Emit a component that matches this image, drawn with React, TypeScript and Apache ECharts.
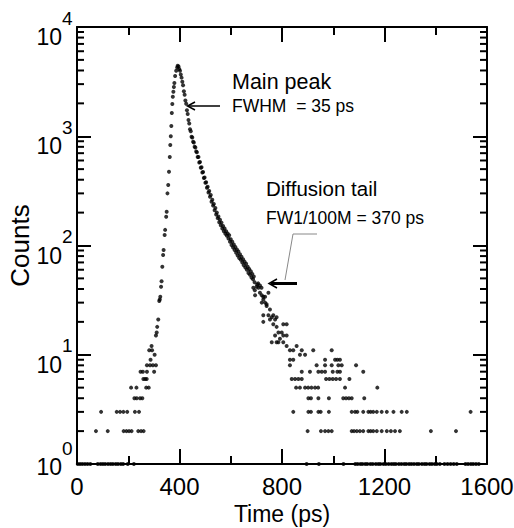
import React, { useEffect, useRef } from "react";
import * as echarts from "echarts";

// ---------- axis tick definitions ----------
const xTickValues = [0, 400, 800, 1200, 1600];
const yDecades = [1, 10, 100, 1000, 10000];
const yMinorTicks = [
  2, 3, 4, 5, 6, 7, 8, 9,
  20, 30, 40, 50, 60, 70, 80, 90,
  200, 300, 400, 500, 600, 700, 800, 900,
  2000, 3000, 4000, 5000, 6000, 7000, 8000, 9000,
];

// ---------- data: [time (ps), counts] ----------
const earlyBaseline: [number, number][] = [
  [3, 1], [12, 1], [21, 1], [31, 1], [41, 1], [52, 1],
  [81, 1], [92, 1], [101, 1], [110, 1], [121, 1], [131, 1], [140, 1], [151, 1], [160, 1], [171, 1], [180, 1], [198, 1], [222, 1],
  [74, 2], [120, 2], [182, 2], [193, 2], [203, 2], [213, 2], [239, 2], [250, 2], [260, 2],
  [94, 3], [155, 3], [168, 3], [181, 3], [196, 3], [226, 3], [242, 3],
  [224, 4], [233, 4], [246, 4], [255, 4],
  [211, 5], [232, 5], [270, 5], [280, 5],
  [259, 6], [266, 6], [272, 6],
  [248, 7], [257, 7], [273, 7], [301, 7],
  [273, 8], [285, 8], [296, 8], [308, 8],
  [287, 9], [303, 10], [282, 11], [293, 11], [291, 12],
];

const risingEdge: [number, number][] = [
  [308, 15], [311, 16], [313, 18], [317, 21], [321, 31], [323, 32], [325, 34],
  [328, 42], [330, 47], [333, 64], [336, 82], [338, 91], [342, 125], [344, 139],
  [348, 183], [350, 204], [353, 300], [356, 358], [359, 474], [362, 646],
  [364, 830], [366, 1000], [368, 1241], [370, 1632], [372, 1972], [374, 2302],
  [376, 2558], [378, 2824], [380, 3071], [383, 3559], [387, 3982], [391, 4250],
  [393, 4420],
];

const decayChain: [number, number][] = [
  [396, 4350], [399, 4120], [402, 3980], [405, 3680], [408, 3440], [411, 3150],
  [414, 2930], [417, 2580], [420, 2400], [423, 2120], [426, 1980], [429, 1730],
  [432, 1600], [435, 1410], [438, 1310], [441, 1160], [444, 1110], [447, 990],
  [450, 975], [453, 890], [456, 875], [459, 800], [462, 790], [465, 725],
  [468, 715], [471, 645], [474, 645], [477, 575], [480, 580], [483, 515],
  [486, 520], [489, 465], [492, 470], [495, 415], [498, 420], [501, 375],
  [504, 380], [507, 338], [510, 345], [513, 305], [516, 315], [519, 280],
  [522, 290], [525, 252], [528, 262], [531, 232], [534, 240], [537, 210],
  [540, 220], [543, 192], [546, 200], [549, 178], [552, 184], [555, 163],
  [558, 172], [561, 153], [564, 162], [567, 143], [570, 151], [573, 135],
  [576, 143], [579, 128], [582, 135], [585, 123], [588, 129], [591, 116],
  [594, 124], [597, 108], [600, 114], [603, 101], [606, 108], [609, 96],
  [612, 102], [615, 91], [618, 97], [621, 86], [624, 92], [627, 81],
  [630, 88], [633, 77], [636, 83], [639, 74], [642, 79], [645, 70],
  [648, 75], [651, 66], [654, 71], [657, 63], [660, 68], [663, 60],
  [666, 64], [669, 56], [672, 61], [675, 54], [678, 58], [681, 51],
  [684, 55], [687, 49], [690, 52], [693, 46],
];

const lateTail: [number, number][] = [
  [688, 41], [694, 39], [695, 35], [701, 42], [703, 44], [707, 45], [708, 41],
  [714, 43], [714, 37], [720, 41], [721, 35], [721, 30], [727, 32], [727, 34],
  [734, 34], [734, 30], [740, 29], [740, 28], [747, 37], [753, 26], [727, 23],
  [747, 23], [760, 22], [753, 21], [773, 21], [766, 19], [766, 23], [727, 20],
  [779, 22], [805, 19], [818, 19], [779, 18], [799, 16], [786, 16], [805, 15],
  [818, 15], [773, 15], [792, 14], [786, 13], [760, 13], [779, 13], [805, 13],
  [818, 12], [831, 11], [844, 11], [857, 12], [877, 11], [922, 11], [994, 11],
  [870, 10], [890, 10],
];

const noiseFloor: [number, number][] = [
  [831, 9], [844, 9], [968, 9], [1007, 9], [1016, 9], [1026, 9],
  [831, 8], [935, 8], [968, 8], [994, 8], [1020, 8], [1033, 8], [1089, 8],
  [877, 7], [909, 7], [942, 7], [955, 7], [968, 7], [998, 7], [1016, 7], [1026, 7], [1117, 7],
  [838, 6], [851, 6], [864, 6], [877, 6], [972, 6], [985, 6], [998, 6], [1011, 6], [1026, 6], [1063, 6],
  [855, 5], [870, 5], [890, 5], [902, 5], [915, 5], [929, 5], [941, 5], [1046, 5], [1172, 5],
  [903, 4], [913, 4], [942, 4], [983, 4], [1039, 4], [1050, 4], [1061, 4], [1072, 4], [1121, 4],
  [844, 3], [903, 3], [913, 3], [942, 3], [951, 3], [983, 3], [1072, 3], [1085, 3], [1094, 3],
  [1117, 3], [1137, 3], [1146, 3], [1156, 3], [1170, 3], [1189, 3], [1209, 3], [1235, 3],
  [1267, 3], [1287, 3], [1536, 3],
  [900, 2], [952, 2], [968, 2], [981, 2], [994, 2], [1072, 2], [1081, 2], [1092, 2], [1104, 2],
  [1117, 2], [1137, 2], [1146, 2], [1156, 2], [1170, 2], [1189, 2], [1209, 2], [1225, 2],
  [1241, 2], [1260, 2], [1381, 2], [1479, 2],
  [896, 1], [944, 1], [1040, 1], [1086, 1], [1095, 1], [1106, 1], [1114, 1], [1125, 1],
  [1133, 1], [1145, 1], [1154, 1], [1166, 1], [1176, 1], [1184, 1], [1196, 1], [1205, 1],
  [1216, 1], [1227, 1], [1236, 1], [1244, 1], [1256, 1], [1266, 1], [1277, 1], [1285, 1],
  [1296, 1], [1305, 1], [1315, 1], [1326, 1], [1334, 1], [1346, 1], [1356, 1], [1364, 1],
  [1376, 1], [1385, 1], [1396, 1], [1404, 1], [1416, 1], [1434, 1], [1446, 1], [1458, 1],
  [1470, 1], [1482, 1], [1516, 1], [1526, 1], [1537, 1], [1546, 1], [1557, 1], [1568, 1],
];

const FONT = "'Liberation Sans', Arial, Helvetica, sans-serif";

export default function App() {
  const ref = useRef<HTMLDivElement>(null);

  useEffect(() => {
    const chart = echarts.init(ref.current!, null, { renderer: "svg" });
    const axisLine = { show: true, onZero: false, lineStyle: { color: "#000", width: 2 } };
    const xAxisBase = {
      type: "value",
      min: 0,
      max: 1600,
      interval: 400,
      splitLine: { show: false },
      axisLine,
      axisTick: { show: true, inside: true, length: 15, lineStyle: { color: "#000", width: 2 } },
      minorTick: { show: true, splitNumber: 2, length: 8, lineStyle: { color: "#000", width: 2 } },
    };
    const yAxisBase = {
      type: "log",
      logBase: 10,
      min: 1,
      max: 10000,
      splitLine: { show: false },
      axisLine,
      axisTick: { show: true, inside: true, length: 14, lineStyle: { color: "#000", width: 2 } },
      axisLabel: { show: false },
    };

    const allPoints = [...earlyBaseline, ...risingEdge, ...decayChain, ...lateTail, ...noiseFloor];

    chart.setOption({
      animation: false,
      backgroundColor: "#fff",
      grid: { left: 77, top: 27, right: 27, bottom: 64, containLabel: false, outerBoundsMode: "none" },
      xAxis: [
        {
          ...xAxisBase,
          position: "bottom",
          name: "Time (ps)",
          nameLocation: "middle",
          nameGap: 36,
          nameTextStyle: { fontFamily: FONT, fontSize: 23, color: "#000" },
          axisLabel: {
            show: true,
            margin: 10,
            fontFamily: FONT,
            fontSize: 24,
            color: "#000",
            customValues: xTickValues,
            formatter: (v: number) => String(v),
          },
        },
        { ...xAxisBase, position: "top", axisLabel: { show: false } },
      ],
      yAxis: [
        {
          ...yAxisBase,
          position: "left",
          name: "Counts",
          nameLocation: "middle",
          nameRotate: 90,
          nameGap: 44,
          nameTextStyle: { fontFamily: FONT, fontSize: 26, color: "#000" },
        },
        { ...yAxisBase, position: "right" },
      ],
      series: [
        {
          type: "scatter",
          data: allPoints,
          symbol: "circle",
          symbolSize: 4,
          itemStyle: { color: "#000" },
          silent: true,
        },
        {
          // log-spaced minor ticks (2..9 per decade) on left and right axes
          type: "custom",
          clip: false,
          silent: true,
          data: yMinorTicks.map((v) => [0, v]),
          renderItem: (params: any, api: any) => {
            const v = api.value(1);
            const pl = api.coord([0, v]);
            const pr = api.coord([1600, v]);
            const st = { stroke: "#000", lineWidth: 2 };
            return {
              type: "group",
              children: [
                { type: "line", shape: { x1: pl[0], y1: pl[1], x2: pl[0] + 7, y2: pl[1] }, style: st },
                { type: "line", shape: { x1: pr[0] - 7, y1: pr[1], x2: pr[0], y2: pr[1] }, style: st },
              ],
            };
          },
        },
        {
          // y-axis decade labels 10^n
          type: "custom",
          clip: false,
          silent: true,
          data: yDecades.map((v) => [0, v]),
          renderItem: (params: any, api: any) => {
            const v = api.value(1);
            const p = api.coord([0, v]);
            const exp = Math.round(Math.log10(v));
            const dy = exp === 0 ? 3 : 10;
            return {
              type: "group",
              children: [
                {
                  type: "text",
                  x: p[0] - 15,
                  y: p[1] + dy,
                  style: { text: "10", fontFamily: FONT, fontSize: 23, fill: "#000", align: "right", verticalAlign: "middle" },
                },
                {
                  type: "text",
                  x: p[0] - 15,
                  y: p[1] + dy - 19,
                  style: { text: String(exp), fontFamily: FONT, fontSize: 19, fill: "#000", align: "left", verticalAlign: "middle" },
                },
              ],
            };
          },
        },
      ],
      graphic: [
        { type: "text", x: 232, y: 82, style: { text: "Main peak", fontFamily: FONT, fontSize: 21.5, fill: "#000", align: "left", verticalAlign: "middle" } },
        { type: "text", x: 232, y: 106, style: { text: "FWHM  = 35 ps", fontFamily: FONT, fontSize: 17.5, fill: "#000", align: "left", verticalAlign: "middle" } },
        { type: "text", x: 266, y: 188, style: { text: "Diffusion tail", fontFamily: FONT, fontSize: 20.5, fill: "#000", align: "left", verticalAlign: "middle" } },
        { type: "text", x: 266, y: 218, style: { text: "FW1/100M = 370 ps", fontFamily: FONT, fontSize: 17.5, fill: "#000", align: "left", verticalAlign: "middle" } },
        // FWHM arrow
        { type: "line", shape: { x1: 188, y1: 106, x2: 220, y2: 106 }, style: { stroke: "#000", lineWidth: 1.5 } },
        { type: "polyline", shape: { points: [[195, 102], [187.5, 106], [195, 110]] }, style: { stroke: "#000", lineWidth: 1.5, fill: null } },
        // diffusion tail arrow + leader
        { type: "polyline", shape: { points: [[317, 234], [293, 234], [285, 280]] }, style: { stroke: "#888", lineWidth: 1, fill: null } },
        { type: "line", shape: { x1: 271, y1: 283.5, x2: 297, y2: 283.5 }, style: { stroke: "#000", lineWidth: 3 } },
        { type: "polyline", shape: { points: [[277, 279], [269, 283.5], [277, 288]] }, style: { stroke: "#000", lineWidth: 1.5, fill: null } },
      ],
    });
    return () => chart.dispose();
  }, []);

  return <div ref={ref} style={{ position: "fixed", left: 0, top: 0, width: 514, height: 528 }} />;
}
